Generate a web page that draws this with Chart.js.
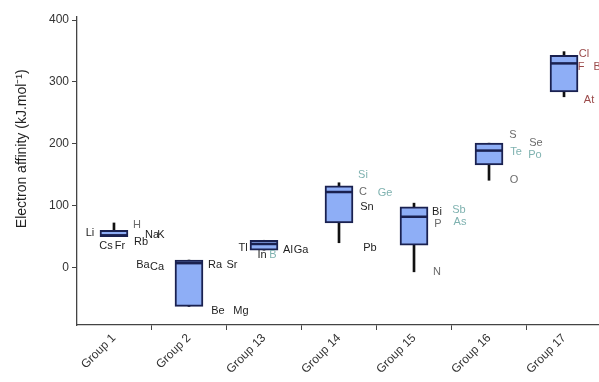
<!DOCTYPE html>
<html>
<head>
<meta charset="utf-8">
<script src="https://cdn.jsdelivr.net/npm/chart.js@4.4.1/dist/chart.umd.min.js"></script>
<style>
  html, body { margin: 0; padding: 0; background: #fff; overflow: hidden; width: 599px; height: 382px; }
  #wrap { width: 640px; height: 382px; }
</style>
</head>
<body>
<div id="wrap"><canvas id="c" width="640" height="382"></canvas></div>
<script>
// Group names along the x axis
const groups = ['Group 1', 'Group 2', 'Group 13', 'Group 14', 'Group 15', 'Group 16', 'Group 17'];

// Box statistics per group (kJ/mol)
const boxLow      = [50, -63, 28, 72, 36, 166, 284];
const boxHigh     = [60, 12, 44, 132, 98, 201, 343];
const medians     = [52, 7, 38, 122, 82, 189, 330];
const whiskerLow  = [50, -63, 28, 40, -7, 141, 276];
const whiskerHigh = [72, 12, 44, 137, 104, 201, 349];

// Element annotations: name, group index, electron affinity used for placement, element class
const elementNames = ['Li','H','Rb','Na','K','Cs','Fr',
                      'Ba','Ca','Ra','Sr','Be','Mg',
                      'Tl','In','B','Al','Ga',
                      'Si','C','Ge','Sn','Pb',
                      'Bi','P','Sb','As','N',
                      'S','Te','Se','Po','O',
                      'Cl','F','Br','At'];
const elementGroup = [0,0,0,0,0,0,0,
                      1,1,1,1,1,1,
                      2,2,2,2,2,
                      3,3,3,3,3,
                      4,4,4,4,4,
                      5,5,5,5,5,
                      6,6,6,6];
const elementEA    = [55,69,42,52,52,34,34,
                      4,1,4,4,-71,-71,
                      31,20,20,28,28,
                      149,122,120,98,31,
                      90,71,93,74,-7,
                      214,187,201,182,141,
                      346,324,324,271];
const elementClass = ['metal','nonmetal','metal','metal','metal','metal','metal',
                      'metal','metal','metal','metal','metal','metal',
                      'metal','metal','metalloid','metal','metal',
                      'metalloid','nonmetal','metalloid','metal','metal',
                      'metal','nonmetal','metalloid','metalloid','nonmetal',
                      'nonmetal','metalloid','nonmetal','metalloid','nonmetal',
                      'halogen','halogen','halogen','halogen'];

// Horizontal text offsets (px) of each annotation from its group centre
const labelDx = [-24,23,27,38,47,-8,6,
                 -46,-32,26,43,29,52,
                 -21,-2,9,24,37,
                 24,24,46,28,31,
                 23,24,45,46,23,
                 24,27,47,46,25,
                 20,17,35,25];

const classColors = { metal: '#1e1e1e', nonmetal: '#6b6b6b', metalloid: '#7fb2b0', halogen: '#9b4a4a' };
const AXIS = '#444';

const boxData = groups.map((g, i) => ({ x: i, y: [boxLow[i], boxHigh[i]] }));
const whiskerData = groups.map((g, i) => ({ x: i, y: [whiskerLow[i], whiskerHigh[i]] }));

// Median bars and element names, placed through the chart scales
const overlayPlugin = {
  id: 'overlay',
  afterDatasetsDraw(chart) {
    const { ctx, scales: { x, y } } = chart;
    ctx.save();
    ctx.strokeStyle = '#1a2150';
    ctx.lineWidth = 2.5;
    medians.forEach((m, i) => {
      const px = x.getPixelForValue(i);
      const py = y.getPixelForValue(m);
      ctx.beginPath();
      ctx.moveTo(px - 14, py);
      ctx.lineTo(px + 14, py);
      ctx.stroke();
    });
    ctx.font = '11px "Liberation Sans", Arial, sans-serif';
    ctx.textAlign = 'center';
    ctx.textBaseline = 'middle';
    elementNames.forEach((n, i) => {
      ctx.fillStyle = classColors[elementClass[i]];
      ctx.fillText(n, x.getPixelForValue(elementGroup[i]) + labelDx[i], y.getPixelForValue(elementEA[i]));
    });
    ctx.restore();
  },
  afterDraw(chart) {
    const { ctx, scales: { y } } = chart;
    ctx.save();
    ctx.font = '14px "Liberation Sans", Arial, sans-serif';
    ctx.fillStyle = '#222';
    ctx.textAlign = 'center';
    ctx.textBaseline = 'middle';
    ctx.translate(22, y.getPixelForValue(192));
    ctx.rotate(-Math.PI / 2);
    ctx.fillText('Electron affinity (kJ.mol\u207B\u00B9)', 0, 0);
    ctx.restore();
  }
};

new Chart(document.getElementById('c'), {
  type: 'bar',
  data: {
    datasets: [
      {
        data: boxData,
        backgroundColor: '#8eaef6',
        borderColor: '#1a2150',
        borderWidth: 2,
        borderSkipped: false,
        barThickness: 28,
        grouped: false,
        order: 1
      },
      {
        data: whiskerData,
        backgroundColor: '#111',
        borderWidth: 0,
        barThickness: 2,
        grouped: false,
        order: 2
      }
    ]
  },
  options: {
    responsive: false,
    animation: false,
    devicePixelRatio: 1,
    layout: { padding: { top: 17, left: 0, right: 0, bottom: 0 } },
    plugins: { legend: { display: false }, tooltip: { enabled: false } },
    scales: {
      x: {
        type: 'linear',
        min: -0.493,
        max: 7.013,
        offset: false,
        afterBuildTicks: s => { s.ticks = groups.map((g, i) => ({ value: i })); },
        afterFit: s => { s.height = 57; },
        grid: { drawOnChartArea: false, drawTicks: true, tickLength: 5, color: AXIS },
        border: { display: true, color: AXIS, width: 1.3 },
        ticks: {
          autoSkip: false,
          minRotation: 45,
          maxRotation: 45,
          padding: 1,
          color: '#333',
          font: { size: 12, family: '"Liberation Sans", Arial, sans-serif' },
          callback: v => groups[v] ?? ''
        }
      },
      y: {
        min: -93,
        max: 405,
        afterBuildTicks: s => { s.ticks = [0, 100, 200, 300, 400].map(v => ({ value: v })); },
        afterFit: s => { s.width = 77; },
        grid: { drawOnChartArea: false, drawTicks: true, tickLength: 5, color: AXIS },
        border: { display: true, color: AXIS, width: 1.3 },
        ticks: {
          padding: 3,
          color: '#333',
          font: { size: 12, family: '"Liberation Sans", Arial, sans-serif' }
        }
      }
    }
  },
  plugins: [overlayPlugin]
});
</script>
</body>
</html>
